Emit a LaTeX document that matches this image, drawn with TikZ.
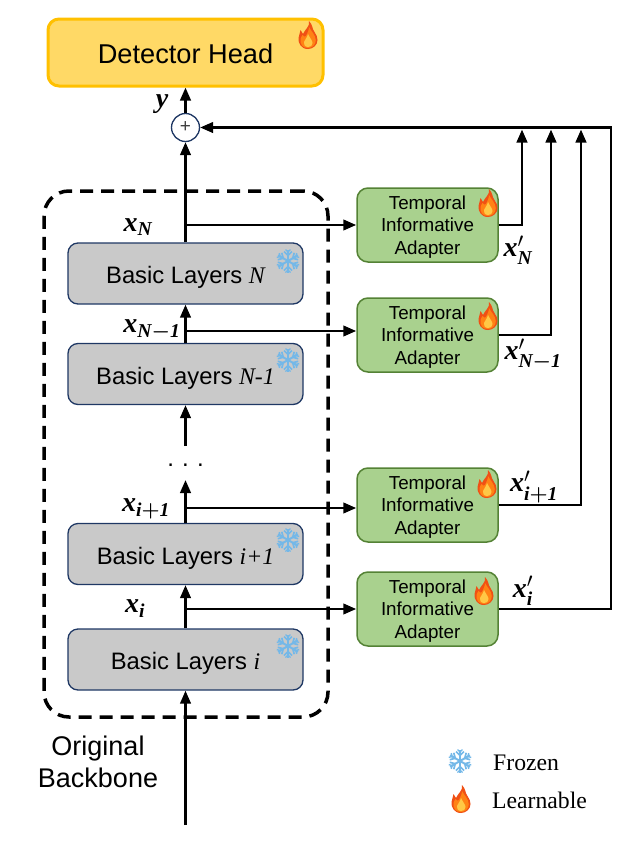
\documentclass[tikz,border=0pt]{standalone}
\usepackage{amsmath}
\usepackage{fontspec}
\setmainfont{Liberation Sans}
\newfontfamily\serifface{Liberation Serif}
\usetikzlibrary{arrows.meta, calc}
\definecolor{HeadFill}{RGB}{255,217,102}
\definecolor{HeadLine}{RGB}{255,192,0}
\definecolor{LayerFill}{RGB}{201,201,201}
\definecolor{EdgeNavy}{RGB}{31,56,100}
\definecolor{AdaptFill}{RGB}{169,209,142}
\definecolor{AdaptLine}{RGB}{84,130,53}
\definecolor{IceBlue}{RGB}{116,184,232}
\definecolor{FlameRed}{RGB}{240,80,20}
\definecolor{FlameOrange}{RGB}{255,130,20}
\definecolor{FlameYellow}{RGB}{255,200,70}
\newcommand{\layerno}[1]{{\serifface\itshape #1}}
\newcommand{\bvar}[1]{\mathord{\text{\serifface\bfseries\itshape #1}}}
\tikzset{
  flame/.pic={
    \fill[FlameRed] (0,14) .. controls (-7,14) and (-10,8) .. (-9.5,3)
      .. controls (-9,0) and (-8,-2) .. (-7.5,-5)
      .. controls (-6,-3.5) and (-5.5,-2.5) .. (-5,-1)
      .. controls (-3,-6) and (2,-8) .. (1,-14)
      .. controls (5,-10) and (4,-6) .. (6.5,-3)
      .. controls (8.5,0) and (9.5,2) .. (9.5,5)
      .. controls (9.5,10) and (5,14) .. (0,14) -- cycle;
    \fill[FlameOrange] (0,13) .. controls (-5.5,13) and (-8,9) .. (-7.5,4)
      .. controls (-7,2) and (-6,1) .. (-5.5,0)
      .. controls (-4,2) and (-3,2) .. (-2,1)
      .. controls (-1,-2) and (1,-4) .. (1,-8)
      .. controls (3,-4) and (7.5,0) .. (7.8,5)
      .. controls (7.8,10) and (4,13) .. (0,13) -- cycle;
    \fill[FlameYellow] (0,12) .. controls (-3.5,12) and (-4.5,9) .. (-4,7)
      .. controls (-3.5,5) and (-1,3) .. (0,-1)
      .. controls (2,3) and (4.5,6) .. (4.5,8)
      .. controls (4.5,11) and (2.5,12) .. (0,12) -- cycle;
  },
  flake/.pic={
    \foreach \ang in {0,60,...,300}{
      \begin{scope}[rotate=\ang]
        \draw[IceBlue, line width=2pt] (0,0) -- (0,-11.5);
        \draw[IceBlue, line width=1.7pt] (-4,-9.5) -- (0,-5.5) -- (4,-9.5);
        \draw[IceBlue, line width=1.3pt] (-2.5,-11.5) -- (0,-9) -- (2.5,-11.5);
      \end{scope}
    }
  },
  arr/.style={-{Triangle[length=13pt, width=10.5pt]}, line width=2.6pt, black},
  headbox/.style={rectangle, rounded corners=11pt, draw=HeadLine, line width=3pt, fill=HeadFill,
                  minimum width=275pt, minimum height=67pt, text height=22pt, text depth=0pt,
                  font=\fontsize{27.2}{30}\selectfont},
  layerbox/.style={rectangle, rounded corners=10pt, draw=EdgeNavy, line width=1.3pt, fill=LayerFill,
                   minimum width=235pt, minimum height=61pt, text height=20pt, text depth=0pt,
                   font=\fontsize{23.8}{26}\selectfont},
  adaptbox/.style={rectangle, rounded corners=11pt, draw=AdaptLine, line width=1.5pt, fill=AdaptFill,
                   minimum width=141pt, minimum height=74pt, align=center,
                   text height=62pt, text depth=4pt,
                   font=\fontsize{18.8}{22.3}\selectfont},
  mathlab/.style={inner sep=0pt, font=\fontsize{28}{28}\selectfont},
  legendlab/.style={anchor=west, inner sep=0pt, font=\fontsize{23.7}{26}\serifface}
}
\begin{document}
\begin{tikzpicture}[x=1pt, y=-1pt]
    \useasboundingbox (0,0) rectangle (622,841);

    \node[rectangle, rounded corners=25pt, draw=black, line width=3.5pt, dash pattern=on 13pt off 8pt,
          minimum width=284pt, minimum height=526pt] (backbone) at (186,454) {};

    \node[headbox] (head) at (185.5,52.5) {Detector Head};
    \node[circle, draw=EdgeNavy, line width=1.3pt, fill=white, minimum size=28pt, inner sep=0pt,
          font=\fontsize{19}{19}\selectfont, text=black!75] (plus) at (185.5,127.5) {+};

    \node[layerbox] (layN)  at (185.5,273.5) {Basic Layers \layerno{N}};
    \node[layerbox] (layN1) at (185.5,374)   {Basic Layers \layerno{N-1}};
    \node[layerbox] (layI1) at (185.5,554)   {Basic Layers \layerno{i+1}};
    \node[layerbox] (layI)  at (185.5,659.5) {Basic Layers \layerno{i}};

    \node[adaptbox] (adaN)  at (427.5,225) {Temporal\\Informative\\Adapter};
    \node[adaptbox] (adaN1) at (427.5,335) {Temporal\\Informative\\Adapter};
    \node[adaptbox] (adaI1) at (427.5,505) {Temporal\\Informative\\Adapter};
    \node[adaptbox] (adaI)  at (427.5,609) {Temporal\\Informative\\Adapter};

    \node[anchor=base, inner sep=0pt, font=\fontsize{24}{24}\selectfont] (dots) at (185.5,466)
          {.\hspace{8.2pt}.\hspace{8.2pt}.};

    % free ends and junctions
    \coordinate (input) at (185.5,825);
    \coordinate (dotsB) at (185.5,480);
    \coordinate (dotsT) at (185.5,446);
    \coordinate (tapN)  at (185.5,225);
    \coordinate (tapN1) at (185.5,331);
    \coordinate (tapI1) at (185.5,508);
    \coordinate (tapI)  at (185.5,609);
    \coordinate (busA) at (522,127.5);
    \coordinate (busB) at (551,127.5);
    \coordinate (busC) at (581,127.5);
    \coordinate (busD) at (611,127.5);

    % backbone path
    \draw[arr] (input) -- (layI.south);
    \draw[arr] (layI.north) -- (layI1.south);
    \draw[arr] (layI1.north) -- (dotsB);
    \draw[arr] (dotsT) -- (layN1.south);
    \draw[arr] (layN1.north) -- (layN.south);
    \draw[arr] (layN.north) -- (plus.south);
    \draw[arr] (plus.north) -- (head.south);

    % taps into the adapters
    \foreach \tap/\ada in {tapN/adaN, tapN1/adaN1, tapI1/adaI1, tapI/adaI}{
      \draw[arr] (\tap) -- (\tap -| \ada.west);
    }

    % adapter outputs
    \draw[arr] (adaN.east) -| ($(busA)+(0,2)$);
    \draw[arr] (adaN1.east) -| ($(busB)+(0,2)$);
    \draw[arr] (adaI1.east) -| ($(busC)+(0,2)$);
    \draw[arr] (adaI.east) -| (busD) -- (plus.east);

    \node[mathlab] (lab-y)  at (162,104) {$\bvar{y}$};
    \node[mathlab] (lab-xN) at (138,227) {$\bvar{x}_{\bvar{N}}$};
    \node[mathlab] (lab-xN1) at (152,330) {$\bvar{x}_{\bvar{N}\boldsymbol{-}\bvar{1}}$};
    \node[mathlab] (lab-xI1) at (146,509) {$\bvar{x}_{\bvar{i}\boldsymbol{+}\bvar{1}}$};
    \node[mathlab] (lab-xI) at (135,609) {$\bvar{x}_{\bvar{i}}$};
    \node[mathlab] (lab-pN) at (518,250) {$\bvar{x}'_{\bvar{N}}$};
    \node[mathlab] (lab-pN1) at (533,355) {$\bvar{x}'_{\bvar{N}\boldsymbol{-}\bvar{1}}$};
    \node[mathlab] (lab-pI1) at (534,487) {$\bvar{x}'_{\bvar{i}\boldsymbol{+}\bvar{1}}$};
    \node[mathlab] (lab-pI) at (523,591) {$\bvar{x}'_{\bvar{i}}$};

    \node[align=center, font=\fontsize{27}{32}\selectfont] (orig) at (98,762) {Original\\Backbone};

    \foreach \x/\y in {308/35, 488/203, 488/316, 487/484, 484/591, 461/799}{
      \pic at (\x,\y) {flame};
    }
    \foreach \x/\y in {288/261, 288/360, 288/540, 288/646, 460/761}{
      \pic at (\x,\y) {flake};
    }

    \node[legendlab] (frozen) at (493,763) {Frozen};
    \node[legendlab] (learn)  at (492,800) {Learnable};
\end{tikzpicture}
\end{document}
